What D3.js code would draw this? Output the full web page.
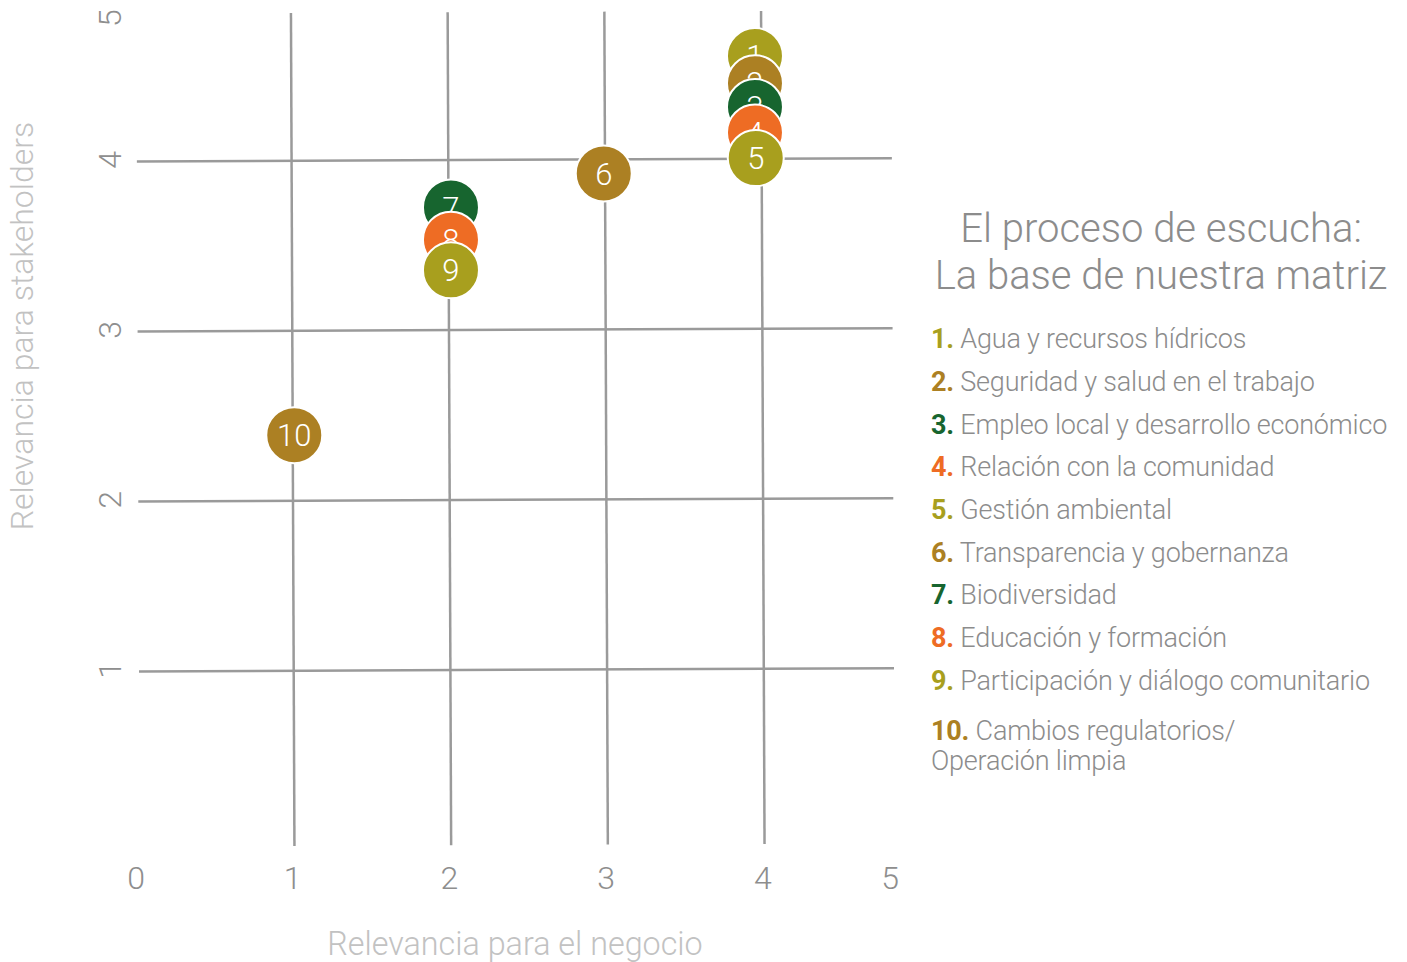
<!DOCTYPE html>
<html><head><meta charset="utf-8">
<script src="https://cdn.jsdelivr.net/npm/d3@7"></script>
<style>
html,body{margin:0;padding:0;background:#fff;}
svg{display:block;font-family:Roboto,"Noto Sans",sans-serif;}
</style></head>
<body>
<svg id="c" width="1407" height="962"></svg>
<script>
// ---- data ----
const ids = [1,2,3,4,5,6,7,8,9,10];
const business = [3.95,3.95,3.95,3.95,3.955,2.985,2.01,2.01,2.01,1.01];
const stakeholders = [4.61,4.45,4.31,4.16,4.01,3.92,3.72,3.53,3.35,2.38];
const groups = ["olive","brown","green","orange","olive","brown","green","orange","olive","brown"];
const labels = ["Agua y recursos hídricos","Seguridad y salud en el trabajo","Empleo local y desarrollo económico","Relación con la comunidad","Gestión ambiental","Transparencia y gobernanza","Biodiversidad","Educación y formación","Participación y diálogo comunitario","Cambios regulatorios/|Operación limpia"];
const xTicks = [0,1,2,3,4,5];
const yTicks = [1,2,3,4,5];
const gridX = [1,2,3,4];
const gridY = [1,2,3,4];
const titleLines = ["El proceso de escucha:","La base de nuestra matriz"];
const xTitle = "Relevancia para el negocio";
const yTitle = "Relevancia para stakeholders";

const palette = {olive:"#A89F1E", brown:"#AC8023", green:"#17652F", orange:"#EE6C24"};
const color = d3.scaleOrdinal().domain(Object.keys(palette)).range(Object.values(palette));

const svg = d3.select("#c");
const x = d3.scaleLinear().domain([0,5]).range([136,919.5]);
const y = d3.scaleLinear().domain([0,5]).range([839.8,-10.2]);
const L=138, R=893, T=12, B=845;
const gridCol="#9a9a9a", tickCol="#8e8e8e", titleCol="#c2c2c2";

// grid (slightly tilted like the original)
const grid = svg.append("g").attr("transform","rotate(-0.24,515,430)");
grid.selectAll("line.h").data(gridY).join("line").attr("class","h")
  .attr("x1",L).attr("x2",R).attr("y1",d=>y(d)).attr("y2",d=>y(d))
  .attr("stroke",gridCol).attr("stroke-width",2.5);
grid.selectAll("line.v").data(gridX).join("line").attr("class","v")
  .attr("y1",T).attr("y2",B).attr("x1",d=>x(d)).attr("x2",d=>x(d))
  .attr("stroke",gridCol).attr("stroke-width",2.5);

// tick labels
svg.selectAll("text.xt").data(xTicks).join("text").attr("class","xt")
  .attr("x",d=>Math.min(x(d),890)).attr("y",889).attr("text-anchor","middle")
  .attr("font-size",32).attr("font-weight",300).attr("fill",tickCol).text(d=>d);
svg.selectAll("text.yt").data(yTicks).join("text").attr("class","yt")
  .attr("transform",d=>`translate(121,${Math.max(y(d),18)}) rotate(-90)`)
  .attr("text-anchor","middle").attr("font-size",32).attr("font-weight",300)
  .attr("fill",tickCol).text(d=>d);

// axis titles
svg.append("text").attr("x",515).attr("y",955).attr("text-anchor","middle")
  .attr("font-size",32.3).attr("font-weight",300).attr("fill",titleCol).text(xTitle);
svg.append("text").attr("transform","translate(33,326) rotate(-90)").attr("text-anchor","middle")
  .attr("font-size",32).attr("font-weight",300).attr("fill",titleCol).text(yTitle);

// points
const pts = ids.map((id,i)=>({id, bx:business[i], sy:stakeholders[i], g:groups[i]}));
const pg = svg.selectAll("g.pt").data(pts).join("g").attr("class","pt")
  .attr("transform",d=>`translate(${x(d.bx)},${y(d.sy)})`);
pg.append("circle").attr("r",28).attr("fill",d=>color(d.g)).attr("stroke","#fff").attr("stroke-width",2);
pg.append("text").attr("text-anchor","middle").attr("dy","0.36em")
  .attr("font-size",31).attr("font-weight",300).attr("fill","#fff").text(d=>d.id);

// title
svg.selectAll("text.title").data(titleLines).join("text").attr("class","title")
  .attr("x",1161).attr("y",(d,i)=>242+i*47).attr("text-anchor","middle")
  .attr("font-size",40).attr("font-weight",300).attr("fill","#8c8c8c").text(d=>d);

// legend
const legY = [348,391,434,476,519,562,604,647,690,740];
const lg = svg.selectAll("g.leg").data(pts).join("g").attr("class","leg");
lg.each(function(d,i){
  const g=d3.select(this);
  const parts=labels[i].split("|");
  const t=g.append("text").attr("x",931).attr("y",legY[i]).attr("font-size",27).attr("letter-spacing",-0.2);
  t.append("tspan").attr("font-weight",700).attr("fill",color(d.g)).text(d.id+".");
  t.append("tspan").attr("font-weight",300).attr("fill","#8c8c8c").text(" "+parts[0]);
  if(parts[1]){
    g.append("text").attr("x",931).attr("y",legY[i]+30).attr("font-size",27).attr("letter-spacing",-0.2)
      .attr("font-weight",300).attr("fill","#8c8c8c").text(parts[1]);
  }
});
</script>
</body></html>
